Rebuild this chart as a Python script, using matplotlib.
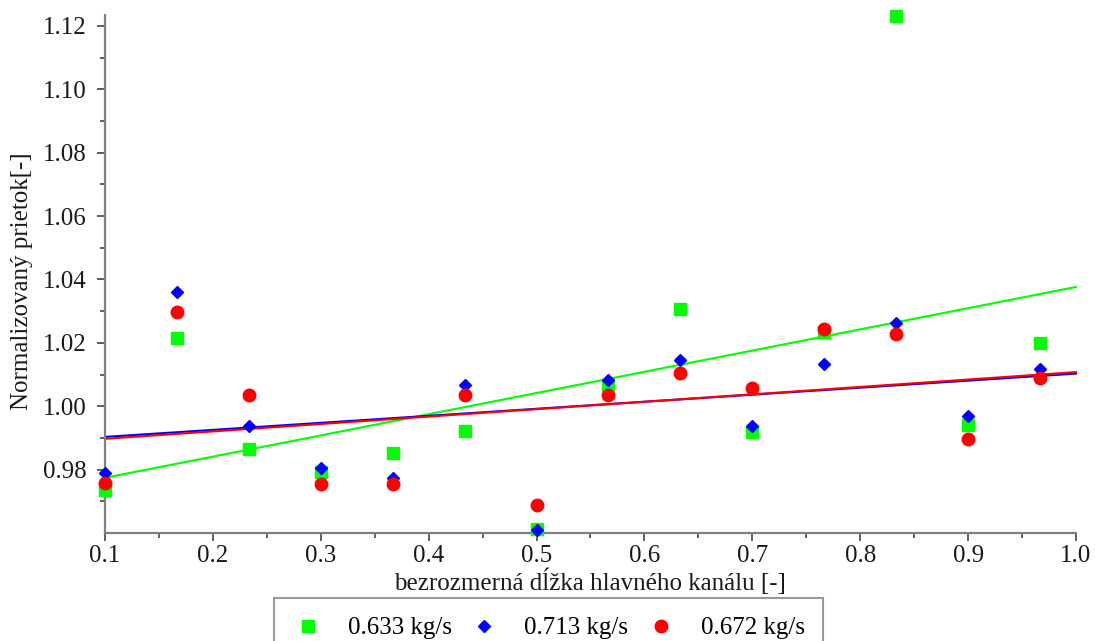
import numpy as np
import matplotlib
matplotlib.use("Agg")
import matplotlib.pyplot as plt
from matplotlib.ticker import MultipleLocator, FormatStrFormatter

# dimensionless position along the main channel
x = [0.1, 0.1667, 0.2333, 0.3, 0.3667, 0.4333, 0.5,
     0.5667, 0.6333, 0.7, 0.7667, 0.8333, 0.9, 0.9667]

# normalized flow for each mass flow rate
q_633 = [0.9737, 1.0216, 0.9866, 0.9793, 0.9851, 0.9922, 0.9614,
         1.0066, 1.0306, 0.9919, 1.0233, 1.1232, 0.9942, 1.0198]
q_713 = [0.9789, 1.0360, 0.9936, 0.9805, 0.9772, 1.0068, 0.9611,
         1.0084, 1.0147, 0.9937, 1.0132, 1.0263, 0.9969, 1.0117]
q_672 = [0.9758, 1.0297, 1.0036, 0.9756, 0.9756, 1.0035, 0.9687,
         1.0035, 1.0105, 1.0056, 1.0245, 1.0227, 0.9896, 1.0089]

labels = ["0.633 kg/s", "0.713 kg/s", "0.672 kg/s"]
colors = ["#00ff00", "#0000ff", "#ff0000"]
markers = ["s", "D", "o"]
msizes = [8.5, 6.3, 9]

plt.rcParams['font.family'] = ['Liberation Serif', 'DejaVu Serif']
fs = 18

fig = plt.figure(figsize=(10.95, 6.41), dpi=100)
ax = fig.add_axes([0.0959, 0.1685, 0.8867, 0.8085])

xs = np.array(x)
xf = np.linspace(0.1, 1.0, 50)
handles = []
# least-squares trend lines
for q, c in zip([q_633, q_713, q_672], colors):
    k, b = np.polyfit(xs, np.array(q), 1)
    ax.plot(xf, k * xf + b, color=c, lw=1.5, zorder=2, clip_on=False)
for q, c, m, ms, lab in zip([q_633, q_713, q_672], colors, markers, msizes, labels):
    h, = ax.plot(xs, q, linestyle="none", marker=m, ms=ms, color=c,
                 mec=c, zorder=3, clip_on=False, label=lab)
    handles.append(h)

ax.set_xlim(0.1, 1.0)
ax.set_ylim(0.96, 1.1235)
ax.xaxis.set_major_locator(MultipleLocator(0.1))
ax.xaxis.set_minor_locator(MultipleLocator(0.05))
ax.xaxis.set_major_formatter(FormatStrFormatter("%.1f"))
ax.set_yticks([0.98, 1.00, 1.02, 1.04, 1.06, 1.08, 1.10, 1.12])
ax.set_yticks(np.arange(0.97, 1.12, 0.02), minor=True)
ax.yaxis.set_major_formatter(FormatStrFormatter("%.2f"))

for s in ["top", "right"]:
    ax.spines[s].set_visible(False)
for s in ["left", "bottom"]:
    ax.spines[s].set_color("#808080")
    ax.spines[s].set_linewidth(1.6)

ax.tick_params(which="major", length=6, width=1.2, color="#444444",
               labelsize=fs, labelcolor="#1a1a1a")
ax.tick_params(which="minor", length=3.5, width=1.2, color="#444444")
ax.tick_params(axis="y", which="major", pad=7)
ax.tick_params(axis="x", which="major", pad=3)

ax.set_xlabel("bezrozmerná dĺžka hlavného kanálu [-]", fontsize=fs,
              color="#1a1a1a", labelpad=1)
ax.set_ylabel("Normalizovaný prietok[-]", fontsize=fs, color="#1a1a1a")
ax.yaxis.set_label_coords(-0.074, 0.486)

leg = fig.legend(handles=handles, loc="upper center", ncol=3,
                 bbox_to_anchor=(0.501, 0.067), borderaxespad=0,
                 fontsize=fs, frameon=True, fancybox=False,
                 edgecolor="#808080", handletextpad=1.0,
                 columnspacing=0.7, borderpad=0.75, handlelength=1.2)
leg.get_frame().set_linewidth(1.5)

fig.savefig("out.png", dpi=100)
